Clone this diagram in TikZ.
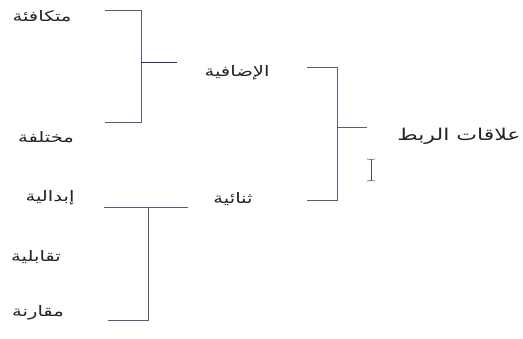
\documentclass[tikz,border=0pt]{standalone}
\usepackage{fontspec}
\newfontfamily\arabicfont[Script=Arabic]{DejaVu Sans}
\TeXXeTstate=1
\definecolor{linec}{RGB}{88,92,118}
\definecolor{tickc}{RGB}{38,44,98}
\definecolor{txtc}{RGB}{35,35,35}
\begin{document}
\begin{tikzpicture}[x=1pt,y=-1pt,
  lbl/.style={inner sep=0pt,text=txtc,xscale=1.35,font=\arabicfont\fontsize{14.5}{17}\selectfont},
  big/.style={inner sep=0pt,text=txtc,xscale=1.35,font=\arabicfont\fontsize{16.3}{19}\selectfont},
  br/.style={draw=linec,line width=0.8pt},
  tk/.style={draw=tickc,line width=1pt}]
\useasboundingbox (0,0) rectangle (523,339);
% texts
\node[lbl] (a1) at (42,16) {\beginR متكافئة\endR};
\node[lbl] (a2) at (46,137) {\beginR مختلفة\endR};
\node[lbl] (b1) at (237,73) {\beginR الإضافية\endR};
\node[lbl] (b2) at (233,199) {\beginR ثنائية\endR};
\node[big] (r) at (459,136) {\beginR علاقات الربط\endR};
\node[lbl] (c1) at (50,198) {\beginR إبدالية\endR};
\node[lbl] (c2) at (36,257) {\beginR تقابلية\endR};
\node[lbl] (c3) at (38,313) {\beginR مقارنة\endR};
% bracket 1
\coordinate (p1a) at (105,10);
\coordinate (p1b) at (141,10);
\coordinate (p1c) at (141,122);
\coordinate (p1d) at (105,122);
\coordinate (p1m) at (141,63);
\coordinate (p1e) at (177,63);
\draw[br] (p1a) -- (p1b) -- (p1c) -- (p1d);
\draw[tk] (p1m) -- (p1e);
% bracket 2
\coordinate (p2a) at (307,67);
\coordinate (p2b) at (337,67);
\coordinate (p2c) at (337,200);
\coordinate (p2d) at (307,200);
\coordinate (p2m) at (337,127);
\coordinate (p2e) at (367,127);
\draw[br] (p2a) -- (p2b) -- (p2c) -- (p2d);
\draw[br] (p2m) -- (p2e);
% bracket 3
\coordinate (p3a) at (104,207);
\coordinate (p3b) at (188,207);
\coordinate (p3m) at (148,207);
\coordinate (p3c) at (148,320);
\coordinate (p3d) at (108,320);
\draw[br] (p3a) -- (p3b);
\draw[br] (p3m) -- (p3c) -- (p3d);
% I-beam cursor
\coordinate (ia) at (371,160);
\coordinate (ib) at (371,180);
\draw[draw=txtc!80,line width=0.6pt] (ia) -- (ib);
\draw[draw=txtc!80,line width=0.6pt] (367,159) .. controls (369,159) and (371,159.5) .. (ia) .. controls (371,159.5) and (373,159) .. (375,159);
\draw[draw=txtc!80,line width=0.6pt] (367,181) .. controls (369,181) and (371,180.5) .. (ib) .. controls (371,180.5) and (373,181) .. (375,181);
\end{tikzpicture}
\end{document}
